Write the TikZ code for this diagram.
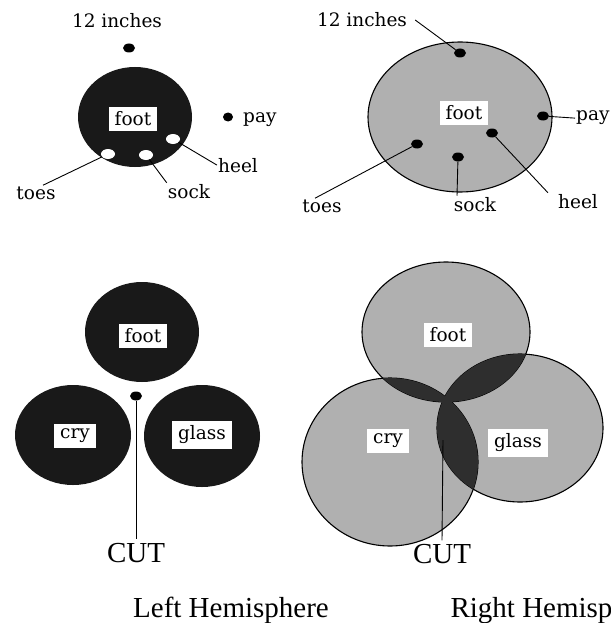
\documentclass[tikz,border=0pt]{standalone}
\usepackage{fontspec}
\newfontfamily\capfont{Liberation Serif}
\newfontfamily\lblfont{DejaVu Serif}
\usetikzlibrary{shapes.geometric}
\newcommand\elFootR{(446,332) ellipse [x radius=84, y radius=70]}
\newcommand\elCryR{(390,462) ellipse [x radius=88, y radius=84]}
\newcommand\elGlassR{(520,428) ellipse [x radius=83, y radius=74]}
\begin{document}
\begin{tikzpicture}[x=1pt,y=-1pt,
  lbl/.style={font=\lblfont\fontsize{18.5}{22}\selectfont, inner sep=1pt},
  wbox/.style={fill=white, font=\lblfont\fontsize{18.5}{22}\selectfont, inner xsep=6pt, inner ysep=5pt},
  blackdot/.style={ellipse, fill=black, minimum width=12pt, minimum height=9pt, inner sep=0pt},
  hole/.style={ellipse, fill=white, minimum width=14pt, minimum height=10pt, inner sep=0pt},
  bigcap/.style={font=\capfont\fontsize{29}{34}\selectfont},
  ln/.style={line width=0.9pt},
  darkdisc/.style={fill=black!90},
  shadedisc/.style={fill=gray!62},
  rim/.style={draw=black, line width=1.1pt},
  smudge/.style={fill=black!82}]
\useasboundingbox (0,0) rectangle (610,623);

% ---------------- top left ----------------
\node[lbl] (inL) at (117,21) {12 inches};
\node[blackdot] (d12L) at (129,48) {};
\fill[darkdisc] (135,117) ellipse [x radius=57, y radius=50];
\node[wbox] (footL) at (133,119) {foot};
\node[hole] (toesH) at (108,154) {};
\node[hole] (sockH) at (146,155) {};
\node[hole] (heelH) at (173,139) {};
\node[blackdot, minimum width=10pt] (payL) at (228,117) {};
\node[lbl, anchor=base west] (payLt) at (242,122) {pay};
\node[lbl, anchor=base] (heelLt) at (238,172) {heel};
\node[lbl, anchor=base] (sockLt) at (189,198) {sock};
\node[lbl, anchor=base] (toesLt) at (36,199) {toes};
\draw[ln] (toesH) -- ([xshift=7pt]toesLt.north);
\draw[ln] (sockH) -- (sockLt.north west);
\draw[ln] (heelH) -- (heelLt.west);

% ---------------- top right ----------------
\node[lbl] (inR) at (362,20) {12 inches};
\path[shadedisc, rim] (460,117) ellipse [x radius=92, y radius=75];
\node[blackdot] (d12R) at (460,53) {};
\draw[ln] ([xshift=7pt]inR.east) -- (d12R);
\node[wbox] (footR1) at (464,113) {foot};
\node[blackdot] (payR) at (543,116) {};
\node[blackdot] (heelR) at (492,133) {};
\node[blackdot] (sockR) at (458,157) {};
\node[blackdot] (toesR) at (417,144) {};
\node[lbl, anchor=base west] (payRt) at (575,121) {pay};
\node[lbl, anchor=base] (heelRt) at (578,208) {heel};
\node[lbl, anchor=base] (sockRt) at (475,211) {sock};
\node[lbl, anchor=base] (toesRt) at (322,212) {toes};
\draw[ln] (payR) -- (payRt.west);
\draw[ln] (heelR) -- ([xshift=-9pt]heelRt.north west);
\draw[ln] (sockR) -- ([xshift=-18pt]sockRt.north);
\draw[ln] (toesR) -- ([xshift=-7pt]toesRt.north);

% ---------------- bottom left ----------------
\fill[darkdisc] (142,332) ellipse [x radius=57, y radius=50];
\fill[darkdisc] (73,435) ellipse [x radius=58, y radius=50];
\fill[darkdisc] (202,436) ellipse [x radius=58, y radius=51];
\node[wbox] (footB) at (143,336) {foot};
\node[wbox] (cryB) at (75,436) {cry};
\node[wbox] (glassB) at (202,435) {glass};
\node[blackdot] (dotB) at (136,396) {};
\node[bigcap, anchor=base] (cutL) at (136,562) {CUT};
\draw[ln] (dotB) -- (cutL.north);

% ---------------- bottom right ----------------
\fill[shadedisc] \elGlassR;
\fill[shadedisc] \elCryR;
\fill[shadedisc] \elFootR;
\draw[rim] \elGlassR;
\draw[rim] \elCryR;
\draw[rim] \elFootR;
\begin{scope}
  \clip \elFootR;
  \fill[smudge] \elCryR;
  \fill[smudge] \elGlassR;
\end{scope}
\begin{scope}
  \clip \elCryR;
  \fill[smudge] \elGlassR;
\end{scope}
\node[wbox] (footR2) at (448,335) {foot};
\node[wbox] (cryR) at (388,441) {cry};
\node[wbox] (glassR) at (518,443) {glass};
\coordinate (cutTop) at (443,440);
\node[bigcap, anchor=base] (cutR) at (442,563) {CUT};
\draw[ln] (cutTop) -- (cutR.north);

% ---------------- captions ----------------
\node[bigcap, anchor=base] (capL) at (231,617) {Left Hemisphere};
\node[bigcap, anchor=base west] (capR) at (447,617) {Right Hemisphere};
\end{tikzpicture}
\end{document}
